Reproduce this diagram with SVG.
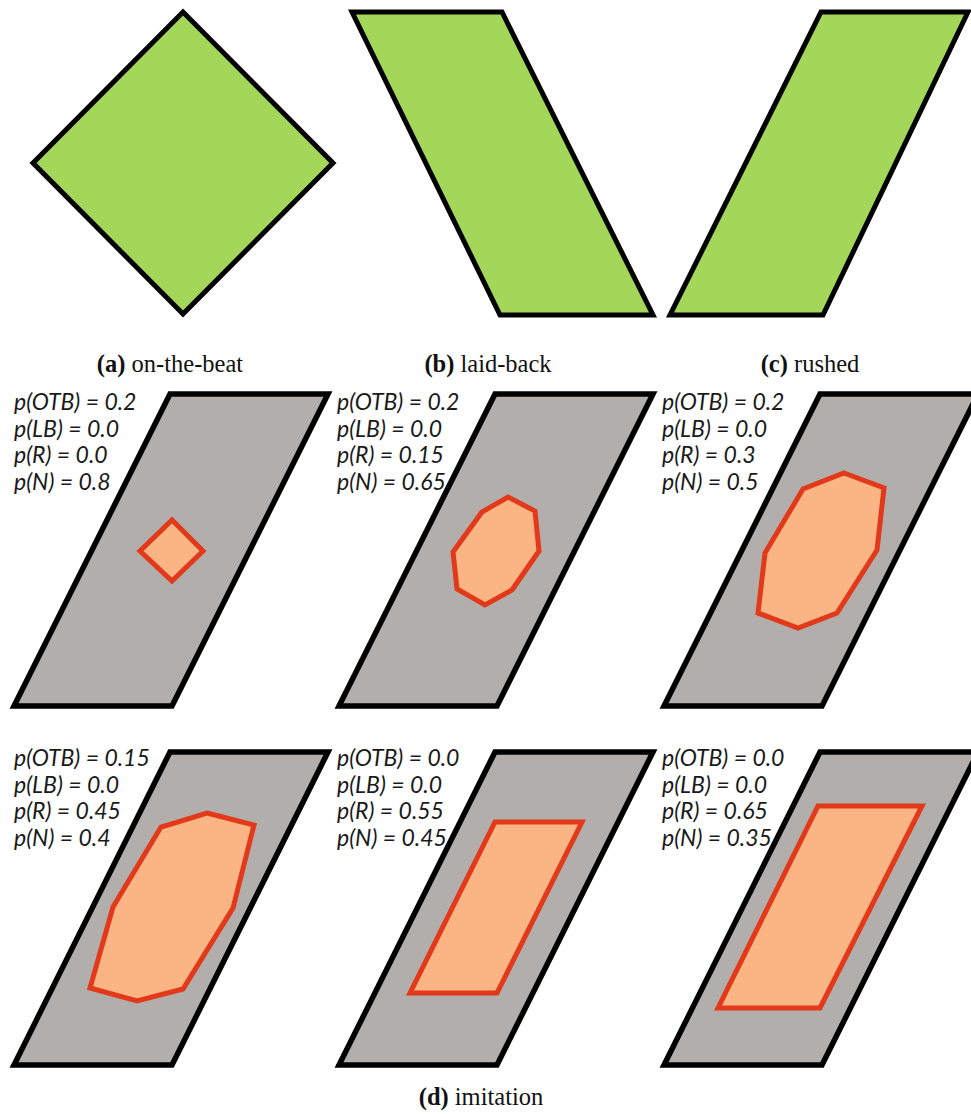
<svg xmlns="http://www.w3.org/2000/svg" width="971" height="1114" viewBox="0 0 971 1114">
<style>
.green{fill:#a4d65a;stroke:#000;stroke-width:5;stroke-linejoin:miter}
.gray{fill:#b2aeac;stroke:#000;stroke-width:5.5;stroke-linejoin:miter}
.blob{fill:#fbb584;stroke:#e2391b;stroke-width:5;stroke-linejoin:miter}
.cap{font-family:"Liberation Serif",serif;font-size:24.5px;fill:#111}
.cap tspan.b{font-weight:bold}
.prob{font-family:Lato,"Open Sans",sans-serif;font-style:italic;font-size:23px;fill:#1a1a1a}
</style>
<rect width="971" height="1114" fill="#fff"/>
<g id="top-a"><polygon class="green" points="183,12 333,163 183,314 33,163"/></g>
<g id="top-b"><polygon class="green" points="352,12 502,12 653,315 500,315"/></g>
<g id="top-c"><polygon class="green" points="821,12 968,12 823,315 670,315"/></g>
<g id="captions">
<text class="cap" x="170" y="372" text-anchor="middle"><tspan class="b">(a)</tspan> on-the-beat</text>
<text class="cap" x="488" y="372" text-anchor="middle"><tspan class="b">(b)</tspan> laid-back</text>
<text class="cap" x="810" y="372" text-anchor="middle"><tspan class="b">(c)</tspan> rushed</text>
<text class="cap" x="481" y="1105" text-anchor="middle"><tspan class="b">(d)</tspan> imitation</text>
</g>
<g id="panel-1">
<polygon class="gray" points="170,394 328,394 172,706 14,706"/>
<polygon class="blob" points="172,520 203,551 172,581 140,551"/>
<text class="prob" x="14" y="410">p(OTB) = 0.2</text>
<text class="prob" x="14" y="436.5">p(LB) = 0.0</text>
<text class="prob" x="14" y="463">p(R) = 0.0</text>
<text class="prob" x="14" y="489.5">p(N) = 0.8</text>
</g>
<g id="panel-2">
<polygon class="gray" points="495,394 653,394 497,706 339,706"/>
<polygon class="blob" points="508,497 535,511 539,551 512,590 485,605 457,589 453,552 482,512"/>
<text class="prob" x="337" y="410">p(OTB) = 0.2</text>
<text class="prob" x="337" y="436.5">p(LB) = 0.0</text>
<text class="prob" x="337" y="463">p(R) = 0.15</text>
<text class="prob" x="337" y="489.5">p(N) = 0.65</text>
</g>
<g id="panel-3">
<polygon class="gray" points="820,394 978,394 822,706 664,706"/>
<polygon class="blob" points="844,473 884,488 877,550 837,613 798,628 758,613 765,553 803,489"/>
<text class="prob" x="662" y="410">p(OTB) = 0.2</text>
<text class="prob" x="662" y="436.5">p(LB) = 0.0</text>
<text class="prob" x="662" y="463">p(R) = 0.3</text>
<text class="prob" x="662" y="489.5">p(N) = 0.5</text>
</g>
<g id="panel-4">
<polygon class="gray" points="170,752 328,752 172,1065 14,1065"/>
<polygon class="blob" points="207,813 254,825 233,908 183,989 137,1001 90,988 113,907 161,827"/>
<text class="prob" x="14" y="766">p(OTB) = 0.15</text>
<text class="prob" x="14" y="792.5">p(LB) = 0.0</text>
<text class="prob" x="14" y="819">p(R) = 0.45</text>
<text class="prob" x="14" y="845.5">p(N) = 0.4</text>
</g>
<g id="panel-5">
<polygon class="gray" points="495,752 653,752 497,1065 339,1065"/>
<polygon class="blob" points="495,822 582,822 497,993 410,993"/>
<text class="prob" x="337" y="766">p(OTB) = 0.0</text>
<text class="prob" x="337" y="792.5">p(LB) = 0.0</text>
<text class="prob" x="337" y="819">p(R) = 0.55</text>
<text class="prob" x="337" y="845.5">p(N) = 0.45</text>
</g>
<g id="panel-6">
<polygon class="gray" points="820,752 978,752 822,1065 664,1065"/>
<polygon class="blob" points="818,806 922,806 820,1008 718,1008"/>
<text class="prob" x="662" y="766">p(OTB) = 0.0</text>
<text class="prob" x="662" y="792.5">p(LB) = 0.0</text>
<text class="prob" x="662" y="819">p(R) = 0.65</text>
<text class="prob" x="662" y="845.5">p(N) = 0.35</text>
</g>
<g id="connectors"/>
</svg>
